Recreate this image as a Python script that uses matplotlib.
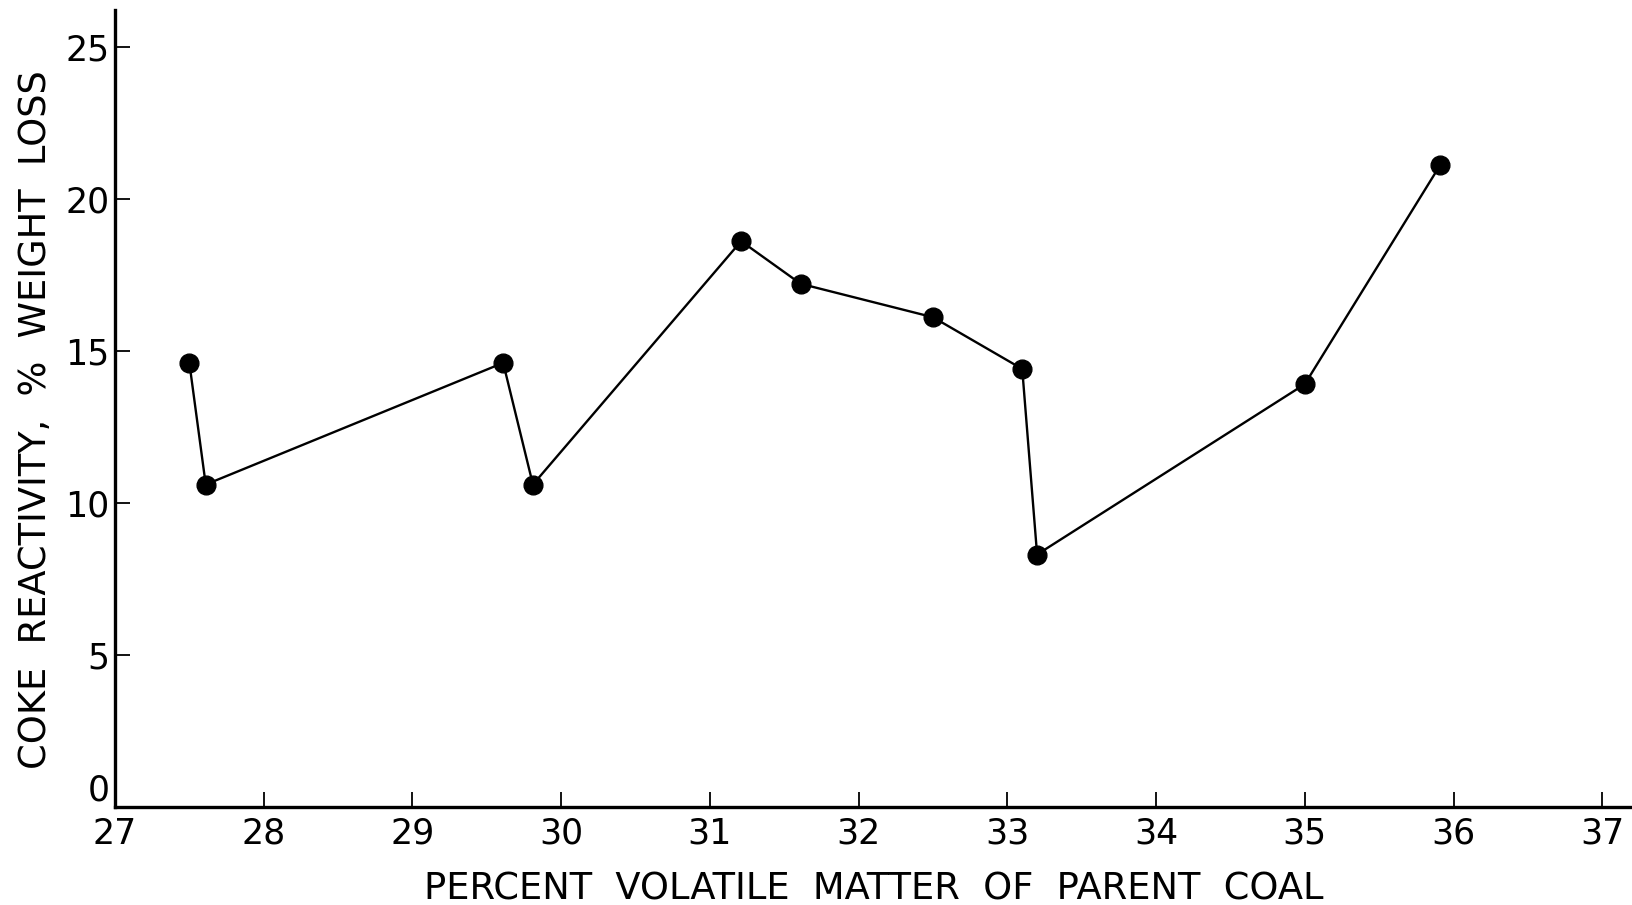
import matplotlib
matplotlib.use("Agg")
from matplotlib import pyplot as plt

# volatile matter (%) vs coke reactivity (% weight loss)
volatile = [27.5, 27.61, 29.61, 29.81, 31.21, 31.61, 32.5, 33.1, 33.2, 35.0, 35.91]
reactivity = [14.6, 10.6, 14.6, 10.6, 18.6, 17.2, 16.1, 14.4, 8.3, 13.9, 21.1]

x_ticks = [27, 28, 29, 30, 31, 32, 33, 34, 35, 36, 37]
y_ticks = [0, 5, 10, 15, 20, 25]

plt.rcParams['font.family'] = ['DejaVu Sans']

fig = plt.figure(figsize=(16.32, 9.05), dpi=100)
ax = fig.add_axes([115 / 1632, 1 - 807 / 905, 1 - 115 / 1632, (807 - 10) / 905])

ax.plot(volatile, reactivity, color='black', linewidth=1.7,
        marker='o', markersize=13.5, markerfacecolor='black', markeredgecolor='black')

ax.set_xlim(27, 37.2)
ax.set_ylim(0, 26.2)
ax.set_xticks(x_ticks)
ax.set_yticks(y_ticks)

for side in ['top', 'right']:
    ax.spines[side].set_visible(False)
for side in ['left', 'bottom']:
    ax.spines[side].set_linewidth(2.4)

ax.tick_params(axis='both', direction='in', length=11, width=1.3, labelsize=25)
ax.tick_params(axis='x', pad=7)
ax.tick_params(axis='y', pad=4)

# lift the zero label off the corner so it clears the 27
ax.get_yticklabels()[0].set_va('bottom')

ax.set_xlabel("PERCENT  VOLATILE  MATTER  OF  PARENT  COAL", fontsize=26.5, labelpad=14)
ax.set_ylabel("COKE  REACTIVITY,  %  WEIGHT  LOSS", fontsize=26.5, labelpad=10)
ax.yaxis.set_label_coords(-0.0405, 0.486)

fig.savefig("out.png", dpi=100)
